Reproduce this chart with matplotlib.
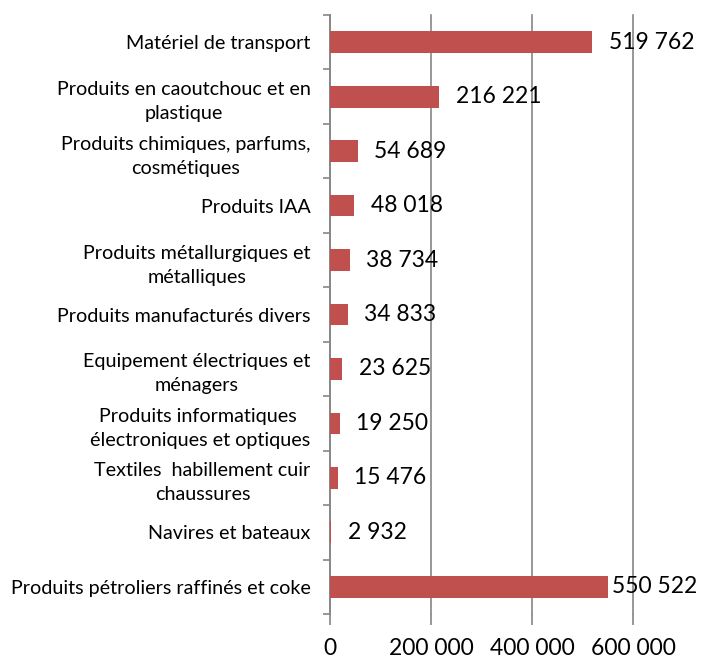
import matplotlib
matplotlib.use("Agg")
import matplotlib.pyplot as plt
import numpy as np

categories = [
    "Matériel de transport",
    "Produits en caoutchouc et en\nplastique",
    "Produits chimiques, parfums,\ncosmétiques",
    "Produits IAA",
    "Produits métallurgiques et\nmétalliques",
    "Produits manufacturés divers",
    "Equipement électriques et\nménagers",
    "Produits informatiques \nélectroniques et optiques",
    "Textiles  habillement cuir\nchaussures",
    "Navires et bateaux",
    "Produits pétroliers raffinés et coke",
]
values = [519762, 216221, 54689, 48018, 38734, 34833, 23625, 19250, 15476, 2932, 550522]
value_labels = ["519 762", "216 221", "54 689", "48 018", "38 734", "34 833",
                "23 625", "19 250", "15 476", "2 932", "550 522"]
xticks = [0, 200000, 400000, 600000]
xtick_labels = ["0", "200 000", "400 000", "600 000"]

FONT = "Lato"
plt.rcParams['font.family'] = [FONT, 'DejaVu Sans']

fig = plt.figure(figsize=(7.02, 6.59), dpi=100)
ax = fig.add_axes([330/702, 1-614/659, 303/702, 599/659])

n = len(categories)
y = np.arange(n)
ax.barh(y, values, height=0.4, color="#C0504D", zorder=3)
ax.set_ylim(n - 0.5, -0.5)
ax.set_xlim(0, 600000)

grid_c = "#868686"
ax.set_xticks(xticks)
ax.set_xticklabels(xtick_labels, fontsize=16.5)
ax.xaxis.grid(True, color=grid_c, linewidth=1.2, zorder=1)
for gl in ax.get_xgridlines():
    gl.set_clip_on(False)
ax.tick_params(axis='x', length=8, width=1.2, color=grid_c, pad=9)

ax.set_yticks(y)
ax.set_yticklabels(categories, fontsize=14.2, multialignment='center', linespacing=1.5)
ax.tick_params(axis='y', length=0, pad=14)
ax.set_yticks(np.arange(n + 1) - 0.5, minor=True)
ax.tick_params(axis='y', which='minor', length=5, width=1.2, color=grid_c)

for s in ['top', 'right', 'bottom']:
    ax.spines[s].set_visible(False)
ax.spines['left'].set_color(grid_c)
ax.spines['left'].set_linewidth(1.2)

pads = [12] * (n - 1) + [3]
for yi, v, lab, p in zip(y, values, value_labels, pads):
    ax.annotate(lab, xy=(v, yi), xytext=(p, 0), textcoords="offset points",
                ha='left', va='center', fontsize=16.5, color="black", zorder=4)

fig.savefig("out.png", dpi=100)
